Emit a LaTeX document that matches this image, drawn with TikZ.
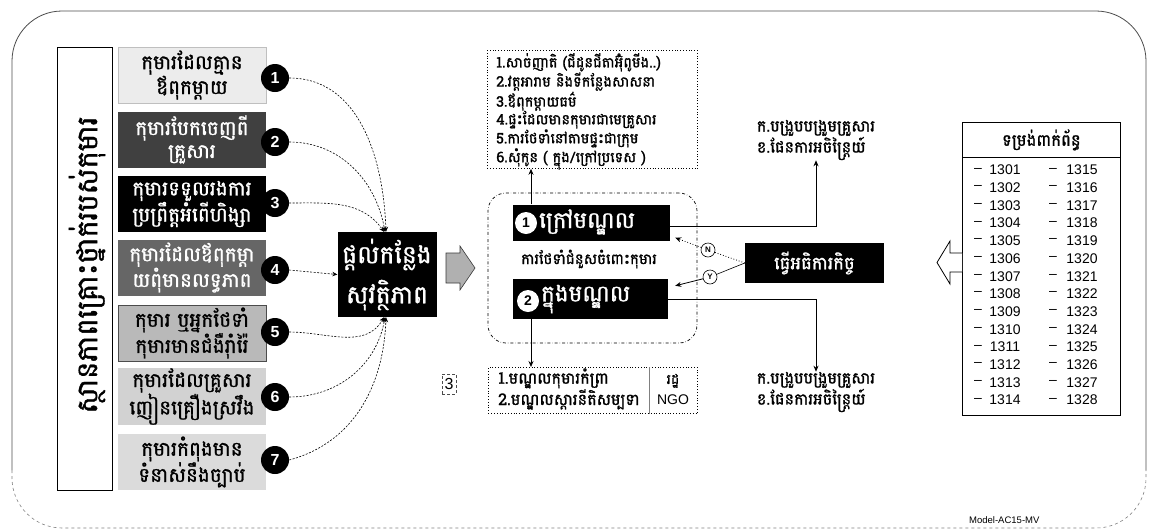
\documentclass[tikz,border=0pt]{standalone}
\usepackage{fontspec}
\setmainfont{Liberation Sans}
\newfontfamily\kh[Script=Khmer,FakeBold=1.3]{Battambang}
\usetikzlibrary{arrows.meta,shapes.arrows}
\begin{document}
\begin{tikzpicture}[x=1pt,y=-1pt,
  sbox/.style={minimum width=148pt, minimum height=56pt, align=center, inner sep=0pt,
     font=\kh\fontsize{20}{23}\selectfont},
  num/.style={circle, fill=black, minimum size=28pt, inner sep=0pt, text=white,
     font=\bfseries\fontsize{16}{16}\selectfont},
  blk/.style={fill=black, text=white, inner sep=0pt},
  conn/.style={dash pattern=on 2pt off 1.5pt, line width=0.6pt, -{Stealth[length=5pt,width=4.5pt]}},
  arr/.style={line width=0.8pt, -{Stealth[length=6pt,width=5pt]}},
  wnum/.style={circle, fill=white, text=black, minimum size=22pt, inner sep=0pt, font=\bfseries\fontsize{14}{14}\selectfont},
  yn/.style={circle, draw, line width=0.6pt, fill=white, minimum size=14pt, inner sep=0pt, font=\bfseries\fontsize{8}{8}\selectfont},
  khs/.style={font=\kh\fontsize{14.5}{17.8}\selectfont, align=left, inner sep=0pt},
  cell/.style={font=\fontsize{14}{14}\selectfont, inner sep=0pt},
]
\useasboundingbox (0,0) rectangle (1154,531);
% outer frame
\draw[line width=0.8pt, black!70, rounded corners=50pt] (12,470) -- (12,11) -- (1146,11) -- (1146,470);
\draw[line width=0.6pt, gray, dashed, rounded corners=50pt] (12,470) -- (12,528) -- (1146,528) -- (1146,470);

% left vertical title box
\node[draw, line width=0.8pt, minimum width=55pt, minimum height=443pt, inner sep=0pt] (sit) at (84.5,268.5) {};
\node[rotate=90, font=\kh\fontsize{29}{29}\selectfont, inner sep=0pt] (sitt) at (87,265) {ស្ថានភាពគ្រោះថ្នាក់របស់កុមារ};

% seven situation boxes
\node[sbox, fill=gray!15, draw=gray!50] (b1) at (192,75) {កុមារដែលគ្មាន\\ឪពុកម្ដាយ};
\node[sbox, fill=black!75, text=white] (b2) at (192,139.5) {កុមារបែកចេញពី\\គ្រួសារ};
\node[sbox, fill=black, text=white] (b3) at (192,204) {កុមារទទួលរងការ\\ប្រព្រឹត្តអំពើហិង្សា};
\node[sbox, fill=black!60, text=white] (b4) at (192,267.5) {កុមារដែលឪពុកម្ដា\\យពុំមានលទ្ធភាព};
\node[sbox, fill=gray!55, draw=black!70] (b5) at (192,333) {កុមារ ឬអ្នកថែទាំ\\កុមារមានជំងឺរ៉ាំរ៉ៃ};
\node[sbox, fill=gray!35] (b6) at (192,396.5) {កុមារដែលគ្រួសារ\\ញៀនគ្រឿងស្រវឹង};
\node[sbox, fill=gray!28] (b7) at (192,462) {កុមារកំពុងមាន\\ទំនាស់នឹងច្បាប់};

\node[num] (n1) at (275,78) {1};
\node[num] (n2) at (275,142) {2};
\node[num] (n3) at (275,203) {3};
\node[num] (n4) at (275,270) {4};
\node[num] (n5) at (275,332) {5};
\node[num] (n6) at (275,397) {6};
\node[num] (n7) at (275,460) {7};

% safe place box
\node[blk, minimum width=99pt, minimum height=85pt, align=center,
      font=\kh\fontsize{25}{40}\selectfont] (safe) at (387,274.5) {ផ្ដល់កន្លែង\\សុវត្ថិភាព};

\draw[conn] (n1.east) to[out=0, in=92] ([xshift=-1pt]safe.north);
\draw[conn] (n2.east) to[out=0, in=100] ([xshift=-2pt]safe.north);
\draw[conn] (n3.east) to[out=0, in=125] ([xshift=-3pt]safe.north);
\draw[conn] (n4.east) -- (safe.west);
\draw[conn] (n5.east) to[out=0, in=-120] ([xshift=-3pt]safe.south);
\draw[conn] (n6.east) to[out=0, in=-100] ([xshift=-2pt]safe.south);
\draw[conn] (n7.east) to[out=15, in=-92] ([xshift=-1pt]safe.south);

% gray block arrow
\draw[fill=gray!62, draw=gray!45!black, line width=0.6pt]
  (446,253) -- (460,253) -- (460,246) -- (475,268) -- (460,290) -- (460,283) -- (446,283) -- cycle;

% group of care options
\node[draw, dash dot, rounded corners=18pt, minimum width=209pt, minimum height=150pt, line width=0.7pt] (grp) at (592.5,268) {};

\node[blk, minimum width=157pt, minimum height=36pt] (out) at (591.5,222.5) {};
\node[wnum] (c1) at (526,223) {1};
\node[font=\kh\fontsize{23}{23}\selectfont, text=white, anchor=west, inner sep=0pt] (outt) at (539,222) {ក្រៅមណ្ឌល};

\node[font=\kh\fontsize{15}{15}\selectfont, inner sep=0pt] (alt) at (589,259) {ការថែទាំជំនួសចំពោះកុមារ};

\node[blk, minimum width=155pt, minimum height=40pt] (in) at (590.5,299) {};
\node[wnum] (c2) at (528,301) {2};
\node[font=\kh\fontsize{23}{23}\selectfont, text=white, anchor=west, inner sep=0pt] (intt) at (541,299) {ក្នុងមណ្ឌល};

% top list
\node[draw, dotted, line width=0.8pt, minimum width=210pt, minimum height=118pt, anchor=north west] (tl) at (487,50) {};
\node[khs, anchor=north west] (tlt) at (496,53) {1.សាច់ញាតិ (ជីដូនជីតាអ៊ុំពូមីង..)\\2.វត្តអារាម និងទីកន្លែងសាសនា\\3.ឪពុកម្ដាយធម៌\\4.ផ្ទះដែលមានកុមារជាមេគ្រួសារ\\5.ការថែទាំនៅតាមផ្ទះជាក្រុម\\6.សុំកូន ( ក្នុង/ក្រៅប្រទេស )};
\draw[arr] ([xshift=-60.5pt]out.north) -- ([xshift=-60.5pt]out.north |- tl.south);

% bottom list
\node[draw, dotted, line width=0.8pt, minimum width=209pt, minimum height=46pt, anchor=north west] (bl) at (488,367) {};
\draw[line width=0.5pt, gray] ([xshift=161pt]bl.north west) -- ([xshift=161pt]bl.south west);
\node[khs, anchor=west, font=\kh\fontsize{16}{20}\selectfont] (blt) at (498,389) {1.មណ្ឌលកុមារកំព្រា\\2.មណ្ឌលស្ដារនីតិសម្បទា};
\node[align=center, inner sep=0pt, font=\fontsize{14}{20}\selectfont] (blr) at (673,389) {{\kh រដ្ឋ}\\NGO};
\draw[arr] ([xshift=-59.5pt]in.south) -- ([xshift=-59.5pt]in.south |- bl.north);

\node[draw, densely dashed, gray!60!black, text=black, font=\fontsize{16}{16}\selectfont, inner sep=1pt,
      minimum width=14pt, minimum height=20pt] (three) at (449,384) {3};

% reunification texts
\node[khs, font=\kh\fontsize{16}{19}\selectfont] (rt) at (816,140) {ក.បង្រួបបង្រួមគ្រួសារ\\ខ.ផែនការអចិន្ត្រៃយ៍};
\node[khs, font=\kh\fontsize{16}{19}\selectfont] (rb) at (816,392) {ក.បង្រួបបង្រួមគ្រួសារ\\ខ.ផែនការអចិន្ត្រៃយ៍};
\draw[arr] ([yshift=-4pt]out.east) -| (rt.south);
\draw[arr] (in.east) -| (rb.north);

% inspection
\node[blk, minimum width=139pt, minimum height=40pt, font=\kh\fontsize{18}{18}\selectfont] (insp) at (814.5,263) {ធ្វើអធិការកិច្ច};
\node[yn] (N) at (708,250) {N};
\node[yn] (Y) at (710,277) {Y};
\draw[dotted, line width=0.8pt] (insp.west) -- (N);
\draw[dotted, line width=0.8pt, -{Stealth[length=6pt,width=5pt]}] (N) -- ([xshift=5pt,yshift=3pt]out.south east);
\draw[line width=0.6pt] (insp.west) -- (Y);
\draw[arr] (Y) -- ([xshift=7pt,yshift=-7pt]in.north east);

% forms table
\node[draw, line width=0.8pt, minimum width=158pt, minimum height=35pt, anchor=north west,
      font=\kh\fontsize{16.5}{16.5}\selectfont] (th) at (962,122) {ទម្រង់ពាក់ព័ន្ធ};
\node[draw, line width=0.8pt, minimum width=158pt, minimum height=258pt, anchor=north west] (tb) at (962,157) {};
\foreach \i in {0,...,13} {
  \pgfmathtruncatemacro\a{1301+\i}
  \pgfmathtruncatemacro\b{1315+\i}
  \node[cell] (la\i) at (978,170+17.7*\i) {–};
  \node[cell] (lb\i) at (1005,170+17.7*\i) {\a};
  \node[cell] (ra\i) at (1053,170+17.7*\i) {–};
  \node[cell] (rb\i) at (1082,170+17.7*\i) {\b};
}
\draw[line width=0.8pt, fill=white] (tb.west |- 0,253) -- (950,253) -- (950,241) -- (937,262.5) -- (950,284) -- (950,272) -- (tb.west |- 0,272);

\node[font=\fontsize{9.5}{9.5}\selectfont, anchor=west, inner sep=0pt] (model) at (969,520) {Model-AC15-MV};
\end{tikzpicture}
\end{document}
